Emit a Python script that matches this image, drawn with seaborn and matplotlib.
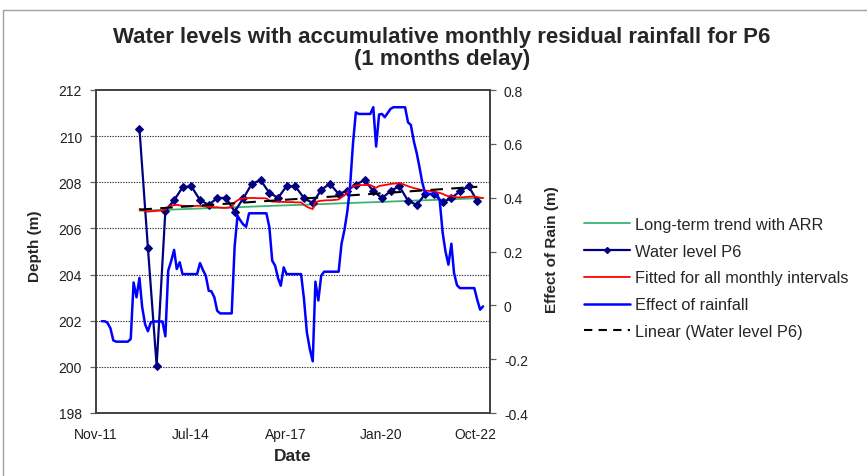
import numpy as np
import pandas as pd
import matplotlib
matplotlib.use("Agg")
import matplotlib.pyplot as plt
import matplotlib.dates as mdates
from matplotlib.lines import Line2D
import seaborn as sns

# quarterly water level readings (m), starting Feb 2013
level_start = "2013-02-01"
water_level = [210.31, 205.16, 200.05, 206.77, 207.22, 207.78, 207.83, 207.23, 207.02, 207.32,
               207.32, 206.73, 207.31, 207.94, 208.09, 207.54, 207.33, 207.83, 207.83, 207.31,
               207.10, 207.67, 207.94, 207.49, 207.64, 207.90, 208.10, 207.62, 207.31, 207.62,
               207.83, 207.20, 207.02, 207.49, 207.49, 207.13, 207.31, 207.61, 207.83, 207.19]

# monthly effect of rainfall (m), starting Jan 2012
rain_start = "2012-01-01"
rain_effect = [-0.059, -0.059, -0.065, -0.085, -0.13, -0.135, -0.135, -0.135, -0.135, -0.135, -0.125,
               0.085, 0.03, 0.102, -0.005, -0.07, -0.096, -0.063, -0.06, -0.06, -0.06, -0.06, -0.115,
               0.129, 0.164, 0.206, 0.135, 0.16, 0.116, 0.116, 0.116, 0.116, 0.116, 0.116,
               0.157, 0.132, 0.11, 0.054, 0.052, 0.03, -0.02, -0.03, -0.03, -0.03, -0.03, -0.03,
               0.218, 0.333, 0.315, 0.30, 0.292, 0.342, 0.342, 0.342, 0.342, 0.342, 0.342, 0.342,
               0.29, 0.166, 0.147, 0.10, 0.073, 0.141, 0.116, 0.116, 0.116, 0.116, 0.116, 0.116,
               0.023, -0.1, -0.162, -0.208, 0.088, 0.018, 0.11, 0.125, 0.125, 0.125, 0.125, 0.125, 0.125,
               0.228, 0.28, 0.35, 0.44, 0.60, 0.717, 0.711, 0.711, 0.711, 0.711, 0.711,
               0.736, 0.59, 0.709, 0.711, 0.699, 0.715, 0.73, 0.736, 0.736, 0.736, 0.736, 0.736,
               0.68, 0.67, 0.61, 0.565, 0.515, 0.455, 0.416, 0.414, 0.414, 0.414, 0.414,
               0.39, 0.27, 0.20, 0.151, 0.229, 0.12, 0.075, 0.064, 0.064, 0.064, 0.064, 0.064, 0.064,
               0.02, -0.016, -0.004]

# monthly fitted water level (m), starting Feb 2013
fitted_start = "2013-02-01"
fitted = [206.84, 206.80, 206.75, 206.73, 206.74, 206.75, 206.76, 206.77, 206.77, 206.82,
          206.93, 206.99, 207.01, 207.02, 207.00, 206.98, 206.97, 206.96, 206.96, 206.97, 206.98,
          206.98, 206.97, 206.95, 206.94, 206.93, 206.92, 206.92, 206.90, 206.89, 206.89, 206.90, 206.92,
          207.13, 207.22, 207.28, 207.30, 207.31, 207.32, 207.32, 207.32, 207.31, 207.31, 207.31, 207.30,
          207.20, 207.16, 207.16, 207.16, 207.15, 207.15, 207.14, 207.14, 207.14, 207.13, 207.13, 207.13,
          207.02, 206.94, 206.88, 206.84, 207.13, 207.18, 207.20, 207.21, 207.22, 207.22, 207.23, 207.24, 207.26,
          207.35, 207.43, 207.56, 207.72, 207.82, 207.86, 207.88, 207.88, 207.88, 207.88, 207.88,
          207.82, 207.76, 207.84, 207.86, 207.88, 207.90, 207.93, 207.94, 207.95, 207.96, 207.93, 207.88,
          207.83, 207.79, 207.75, 207.72, 207.69, 207.66, 207.64, 207.63, 207.62, 207.60, 207.57,
          207.54, 207.50, 207.44, 207.39, 207.44, 207.36, 207.35, 207.35, 207.35, 207.36, 207.37,
          207.38, 207.38, 207.36, 207.33, 207.32]

# long-term trend with ARR (m)
trend_dates = ["2013-02-01", "2014-02-01", "2015-02-01", "2016-02-01", "2017-02-01", "2018-02-01",
               "2019-02-01", "2020-02-01", "2021-02-01", "2022-02-01", "2023-01-01"]
trend_values = [206.77, 206.82, 206.88, 206.93, 206.99, 207.04, 207.10, 207.15, 207.21, 207.26, 207.32]

tick_labels = ["Nov-11", "Jul-14", "Apr-17", "Jan-20", "Oct-22"]

df_level = pd.DataFrame({"date": pd.date_range(level_start, periods=len(water_level), freq="3MS"),
                         "value": water_level})
df_rain = pd.DataFrame({"date": pd.date_range(rain_start, periods=len(rain_effect), freq="MS"),
                        "value": rain_effect})
df_fit = pd.DataFrame({"date": pd.date_range(fitted_start, periods=len(fitted), freq="MS"),
                       "value": fitted})
df_trend = pd.DataFrame({"date": pd.to_datetime(trend_dates), "value": trend_values})

# Excel-style linear trendline of the water level
xnum = mdates.date2num(df_level["date"])
coef = np.polyfit(xnum, df_level["value"], 1)
df_lin = pd.DataFrame({"date": df_level["date"].iloc[[0, -1]].values,
                       "value": np.polyval(coef, xnum[[0, -1]])})

sns.set_style("white")
plt.rcParams["font.family"] = ["Liberation Sans", "DejaVu Sans"]

W, H = 867, 477
fig = plt.figure(figsize=(W / 100, H / 100), dpi=100)
ax = fig.add_axes([96 / W, 1 - 414 / H, (490 - 96) / W, (414 - 91) / H])
ax2 = ax.twinx()

sns.lineplot(data=df_trend, x="date", y="value", ax=ax, color="#3cb371", lw=1.3,
             label="Long-term trend with ARR", legend=False)
sns.lineplot(data=df_level, x="date", y="value", ax=ax, color="#000080", lw=1.6,
             marker="D", markersize=3.8, markeredgecolor="#000080",
             label="Water level P6", legend=False)
sns.lineplot(data=df_fit, x="date", y="value", ax=ax, color="#ff0000", lw=1.3,
             label="Fitted for all monthly intervals", legend=False)
sns.lineplot(data=df_lin, x="date", y="value", ax=ax, color="black", lw=1.5,
             dashes=False, label="Linear (Water level P6)", legend=False)
ax.lines[-1].set_dashes([6, 4])
sns.lineplot(data=df_rain, x="date", y="value", ax=ax2, color="#0000ff", lw=1.8,
             label="Effect of rainfall", legend=False)

start = mdates.date2num(pd.Timestamp("2011-11-01"))
ax.set_xlim(start, start + 4152)
ax.set_xticks(start + np.arange(0, 4001, 1000))
ax.set_xticklabels(tick_labels)
ax.set_xticks(start + np.arange(0, 4001, 200), minor=True)

ax.set_ylim(198, 212)
ax.set_yticks(np.arange(198, 212.1, 2))
ax2.set_ylim(-0.4, 0.8)
ax2.set_yticks([-0.4, -0.2, 0, 0.2, 0.4, 0.6, 0.8])
ax2.set_yticklabels(["-0.4", "-0.2", "0", "0.2", "0.4", "0.6", "0.8"])

for g in np.arange(200, 211, 2):
    ax.axhline(g, color="#303030", lw=0.8, ls=(0, (1.2, 1.2)), zorder=0)

for a in (ax, ax2):
    for s in a.spines.values():
        s.set_color("#404040")
        s.set_linewidth(1.2)
    a.tick_params(axis="both", which="both", direction="out", length=4, width=0.9,
                  color="#606060", labelsize=10, labelcolor="#202020", pad=3)
ax.tick_params(axis="y", pad=6)
ax2.tick_params(axis="y", pad=6)
ax.tick_params(axis="x", pad=6)

ax.set_xlabel("Date", fontsize=12.5, fontweight="bold", labelpad=5)
ax.set_ylabel("Depth (m)", fontsize=11, fontweight="bold")
ax.yaxis.set_label_coords((42 - 96) / 394, (414 - 246) / 323)
ax2.set_ylabel("Effect of Rain (m)", fontsize=11, fontweight="bold")
ax2.yaxis.set_label_coords((545 - 96) / 394, (414 - 250) / 323)

fig.text(442 / W, 1 - 37 / H, "Water levels with accumulative monthly residual rainfall for P6",
         ha="center", va="center", fontsize=16, fontweight="bold")
fig.text(442 / W, 1 - 60 / H, "(1 months delay)", ha="center", va="center",
         fontsize=16, fontweight="bold")

handles = [
    Line2D([], [], color="#3cb371", lw=1.3),
    Line2D([], [], color="#000080", lw=1.6, marker="D", markersize=3),
    Line2D([], [], color="#ff0000", lw=1.3),
    Line2D([], [], color="#0000ff", lw=1.8),
    Line2D([], [], color="black", lw=1.5, dashes=[4, 3]),
]
labels = ["Long-term trend with ARR", "Water level P6", "Fitted for all monthly intervals",
          "Effect of rainfall", "Linear (Water level P6)"]
fig.legend(handles, labels, loc="center left", bbox_to_anchor=(576 / W, 1 - 279 / H),
           frameon=False, fontsize=11.8, handlelength=2.8, handletextpad=0.3,
           labelspacing=0.72, borderpad=0, numpoints=1)

# chart area border
fig.add_artist(Line2D([3 / W, 1], [1 - 11 / H, 1 - 11 / H], color="#a0a0a0", lw=1))
fig.add_artist(Line2D([3 / W, 3 / W], [0, 1 - 11 / H], color="#a0a0a0", lw=1))

fig.savefig("out.png", dpi=100)
